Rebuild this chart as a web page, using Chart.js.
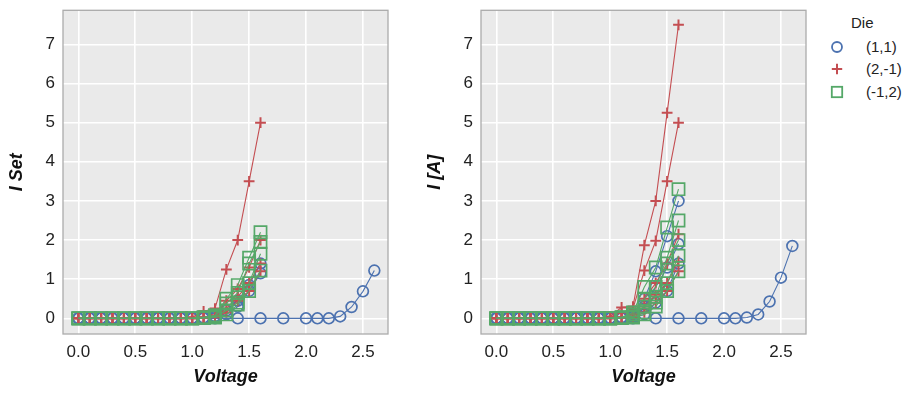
<!DOCTYPE html>
<html>
<head>
<meta charset="utf-8">
<script src="https://cdn.jsdelivr.net/npm/chart.js@4"></script>
<style>
  body { margin: 0; background: #fff; }
  #wrap { position: relative; width: 922px; height: 395px; font-family: "Liberation Sans", Arial, sans-serif; color: #222; }
  canvas { position: absolute; top: 0; }
  .lg { position: absolute; font-size: 15px; line-height: 18px; white-space: nowrap; }
  .mk { position: absolute; width: 14px; height: 14px; }
</style>
</head>
<body>
<div id="wrap">
  <canvas id="left" width="400" height="395" style="left:0"></canvas>
  <canvas id="right" width="400" height="395" style="left:418px"></canvas>
  <div id="legend"></div>
</div>
<script>
// voltage steps of the short sweeps and of the one long sweep on die (1,1)
const voltSweep = [0, 0.1, 0.2, 0.3, 0.4, 0.5, 0.6, 0.7, 0.8, 0.9, 1.0, 1.1, 1.2, 1.3, 1.4, 1.5, 1.6];
const voltLong = [0, 0.1, 0.2, 0.3, 0.4, 0.5, 0.6, 0.7, 0.8, 0.9, 1.0, 1.1, 1.2, 1.4, 1.6, 1.8, 2.0, 2.1, 2.2, 2.3, 2.4, 2.5, 2.6];

const xTicks = [0, 0.5, 1, 1.5, 2, 2.5];
const yTicks = [0, 1, 2, 3, 4, 5, 6, 7];

const dieNames = ['(1,1)', '(2,-1)', '(-1,2)'];
const dieColors = ['#4C72B0', '#C44E52', '#55A868'];
const dieMarkers = ['circle', 'cross', 'rect'];

// left panel: I Set
const setLong11 = [0, 0, 0, 0, 0, 0, 0, 0, 0, 0, 0, 0, 0, 0, 0, 0, 0, 0, 0, 0.05, 0.29, 0.69, 1.22];
const set11 = [
  [0, 0, 0, 0, 0, 0, 0, 0, 0, 0, 0, 0.02, 0.06, 0.2, 0.45, 0.85, 1.4],
  [0, 0, 0, 0, 0, 0, 0, 0, 0, 0, 0, 0.01, 0.03, 0.1, 0.3, 0.7, 1.15]
];
const set2m1 = [
  [0, 0, 0, 0, 0, 0, 0, 0, 0, 0, 0.03, 0.18, 0.25, 1.25, 2.0, 3.5, 5.0],
  [0, 0, 0, 0, 0, 0, 0, 0, 0, 0, 0, 0.03, 0.08, 0.45, 0.75, 1.3, 2.0],
  [0, 0, 0, 0, 0, 0, 0, 0, 0, 0, 0, 0.02, 0.05, 0.25, 0.55, 0.9, 1.4],
  [0, 0, 0, 0, 0, 0, 0, 0, 0, 0, 0, 0.01, 0.03, 0.15, 0.45, 0.7, 1.2]
];
const setm12 = [
  [0, 0, 0, 0, 0, 0, 0, 0, 0, 0, 0, 0.03, 0.08, 0.5, 0.85, 1.55, 2.2],
  [0, 0, 0, 0, 0, 0, 0, 0, 0, 0, 0, 0.02, 0.05, 0.38, 0.65, 1.4, 1.95],
  [0, 0, 0, 0, 0, 0, 0, 0, 0, 0, 0, 0.01, 0.03, 0.2, 0.4, 0.9, 1.65],
  [0, 0, 0, 0, 0, 0, 0, 0, 0, 0, 0, 0.01, 0.02, 0.1, 0.35, 0.7, 1.22]
];

// right panel: I [A]
const curLong11 = [0, 0, 0, 0, 0, 0, 0, 0, 0, 0, 0, 0, 0, 0, 0, 0, 0, 0, 0.02, 0.1, 0.43, 1.04, 1.85];
const cur11 = [
  [0, 0, 0, 0, 0, 0, 0, 0, 0, 0, 0, 0.03, 0.1, 0.5, 1.2, 2.1, 3.0],
  [0, 0, 0, 0, 0, 0, 0, 0, 0, 0, 0, 0.02, 0.05, 0.3, 0.8, 1.3, 1.9],
  [0, 0, 0, 0, 0, 0, 0, 0, 0, 0, 0, 0.01, 0.03, 0.1, 0.4, 0.7, 1.4]
];
const cur2m1 = [
  [0, 0, 0, 0, 0, 0, 0, 0, 0, 0, 0.05, 0.28, 0.3, 1.87, 3.0, 5.25, 7.5],
  [0, 0, 0, 0, 0, 0, 0, 0, 0, 0, 0.03, 0.15, 0.25, 1.22, 1.98, 3.5, 5.0],
  [0, 0, 0, 0, 0, 0, 0, 0, 0, 0, 0, 0.03, 0.1, 0.5, 0.9, 1.4, 2.15],
  [0, 0, 0, 0, 0, 0, 0, 0, 0, 0, 0, 0.02, 0.05, 0.3, 0.6, 0.9, 1.45],
  [0, 0, 0, 0, 0, 0, 0, 0, 0, 0, 0, 0.01, 0.03, 0.15, 0.4, 0.7, 1.2]
];
const curm12 = [
  [0, 0, 0, 0, 0, 0, 0, 0, 0, 0, 0, 0.03, 0.15, 0.8, 1.3, 2.32, 3.3],
  [0, 0, 0, 0, 0, 0, 0, 0, 0, 0, 0, 0.02, 0.1, 0.5, 0.8, 1.55, 2.5],
  [0, 0, 0, 0, 0, 0, 0, 0, 0, 0, 0, 0.02, 0.05, 0.3, 0.55, 1.4, 2.0],
  [0, 0, 0, 0, 0, 0, 0, 0, 0, 0, 0, 0.01, 0.03, 0.15, 0.4, 0.9, 1.6],
  [0, 0, 0, 0, 0, 0, 0, 0, 0, 0, 0, 0.01, 0.02, 0.1, 0.3, 0.7, 1.2]
];

Chart.defaults.font.family = '"Liberation Sans", Arial, sans-serif';

function sweepSet(xs, ys, die) {
    var pts = xs.map((x, i) => ({x: x, y: ys[i]}));
    var marker = dieMarkers[die];
    return {
        label: dieNames[die],
        data: pts,
        showLine: true,
        borderColor: dieColors[die],
        borderWidth: 1.1,
        pointStyle: marker,
        pointRadius: marker == 'rect' ? 8.6 : 5.4,
        pointBorderWidth: marker == 'cross' ? 2 : 1.7,
        pointBorderColor: dieColors[die],
        pointBackgroundColor: 'rgba(0,0,0,0)',
        order: 3 - die
    };
}

function panelData(long11, rows11, rows2m1, rowsm12) {
    var sets = [sweepSet(voltLong, long11, 0)];
    rows11.forEach(r => sets.push(sweepSet(voltSweep, r, 0)));
    rows2m1.forEach(r => sets.push(sweepSet(voltSweep, r, 1)));
    rowsm12.forEach(r => sets.push(sweepSet(voltSweep, r, 2)));
    return { datasets: sets };
}

// grey panel with a thin frame, like the reference
const panelFrame = {
    id: 'panelFrame',
    beforeDraw(chart) {
        const {ctx, chartArea: a} = chart;
        ctx.save();
        ctx.fillStyle = '#EAEAEA';
        ctx.fillRect(a.left, a.top, a.width, a.height);
        ctx.restore();
    },
    afterDraw(chart) {
        const {ctx, chartArea: a} = chart;
        ctx.save();
        ctx.strokeStyle = '#ABABAB';
        ctx.lineWidth = 1.3;
        ctx.strokeRect(a.left, a.top, a.width, a.height);
        ctx.restore();
    }
};

function noEdgePadding(s) {
    s.paddingTop = 0;
    s.paddingBottom = 0;
    s.paddingLeft = 0;
    s.paddingRight = 0;
}

function panelOptions(yTitle) {
    return {
        responsive: false,
        animation: false,
        devicePixelRatio: 1,
        layout: { padding: { left: 0, top: 9, right: 12, bottom: 0 } },
        plugins: { legend: { display: false }, tooltip: { enabled: false } },
        scales: {
            x: {
                type: 'linear',
                min: -0.135,
                max: 2.72,
                afterBuildTicks: s => { s.ticks = xTicks.map(v => ({value: v})); },
                afterFit: s => { s.height = 61; noEdgePadding(s); },
                grid: { color: '#ffffff', lineWidth: 1.6, drawTicks: false },
                border: { display: false },
                ticks: { padding: 8, color: '#222', autoSkip: false, maxRotation: 0,
                         font: { size: 17 }, callback: v => v.toFixed(1) },
                title: { display: true, text: 'Voltage', color: '#111',
                         font: { size: 18, weight: 'bold', style: 'italic' },
                         padding: { top: 0, bottom: 7 } }
            },
            y: {
                type: 'linear',
                min: -0.4,
                max: 7.87,
                afterBuildTicks: s => { s.ticks = yTicks.map(v => ({value: v})); },
                afterFit: s => { s.width = 63; noEdgePadding(s); },
                grid: { color: '#ffffff', lineWidth: 1.6, drawTicks: false },
                border: { display: false },
                ticks: { padding: 8, color: '#222', autoSkip: false, font: { size: 17 },
                         callback: v => String(v) },
                title: { display: true, text: yTitle, color: '#111',
                         font: { size: 18, weight: 'bold', style: 'italic' },
                         padding: { top: 6, bottom: 0 } }
            }
        }
    };
}

new Chart('left', {
    type: 'scatter',
    data: panelData(setLong11, set11, set2m1, setm12),
    options: panelOptions('I Set'),
    plugins: [panelFrame]
});

new Chart('right', {
    type: 'scatter',
    data: panelData(curLong11, cur11, cur2m1, curm12),
    options: panelOptions('I [A]'),
    plugins: [panelFrame]
});

// legend, one entry per die
function markerSvg(die) {
    var c = dieColors[die];
    if (dieMarkers[die] == 'circle')
        return '<svg class="mk" viewBox="0 0 14 14"><circle cx="7" cy="7" r="5" fill="none" stroke="' + c + '" stroke-width="1.8"/></svg>';
    if (dieMarkers[die] == 'cross')
        return '<svg class="mk" viewBox="0 0 14 14"><path d="M7 1.8V12.2M1.8 7H12.2" stroke="' + c + '" stroke-width="2"/></svg>';
    return '<svg class="mk" viewBox="0 0 14 14"><rect x="1.8" y="1.8" width="10.4" height="10.4" fill="none" stroke="' + c + '" stroke-width="1.8"/></svg>';
}

var legend = document.getElementById('legend');
var html = '<div class="lg" style="left:851px;top:14px">Die</div>';
dieNames.forEach((name, i) => {
    var cy = 46.5 + i * 22.8;
    html += '<div style="position:absolute;left:830px;top:' + (cy - 7) + 'px">' + markerSvg(i) + '</div>';
    html += '<div class="lg" style="left:866px;top:' + (cy - 9) + 'px">' + name + '</div>';
});
legend.innerHTML = html;
</script>
</body>
</html>
